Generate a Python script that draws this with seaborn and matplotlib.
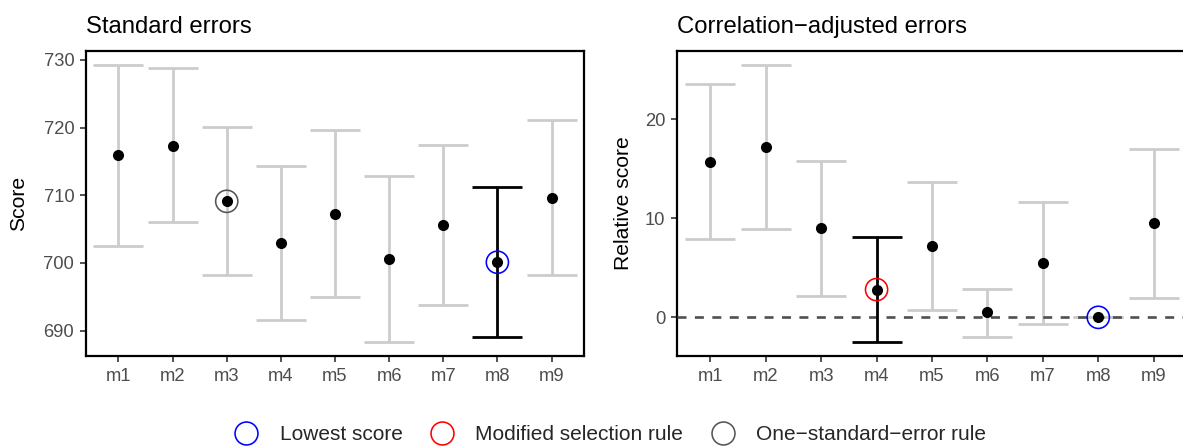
import numpy as np
import pandas as pd
import matplotlib
matplotlib.use("Agg")
import matplotlib.pyplot as plt
from matplotlib.lines import Line2D
import seaborn as sns

# ---------------- data ----------------
models = ["m1", "m2", "m3", "m4", "m5", "m6", "m7", "m8", "m9"]

score = [715.9, 717.3, 709.1, 703.0, 707.3, 700.6, 705.55, 700.1, 709.6]
score_lower = [702.5, 706.0, 698.2, 691.6, 695.0, 688.3, 693.8, 689.0, 698.2]
score_upper = [729.3, 728.8, 720.1, 714.3, 719.7, 712.9, 717.4, 711.2, 721.1]

rel_score = [15.7, 17.2, 9.0, 2.8, 7.2, 0.5, 5.45, 0.0, 9.5]
rel_lower = [7.9, 8.9, 2.2, -2.5, 0.7, -2.0, -0.7, 0.0, 2.0]
rel_upper = [23.5, 25.5, 15.8, 8.1, 13.7, 2.9, 11.6, 0.0, 17.0]

left_ticks = [690, 700, 710, 720, 730]
right_ticks = [0, 10, 20]

lowest_model = "m8"
modified_model = "m4"
onese_model = "m3"

legend_labels = ["Lowest score", "Modified selection rule", "One\u2212standard\u2212error rule"]
titles = ["Standard errors", "Correlation\u2212adjusted errors"]
ylabels = ["Score", "Relative score"]

# ---------------- style ----------------
sns.set_theme(style="white")
plt.rcParams["font.family"] = ["Liberation Sans", "DejaVu Sans"]

BAR_GREY = "#CCCCCC"
TICK_TXT = "#4D4D4D"
C_LOW = "#0000FF"
C_MOD = "#FF0000"
C_ONE = "#555555"

fig = plt.figure(figsize=(11.83, 4.46), dpi=100)
H = 446.0
W = 1183.0
ax_top = 50.7
ax_bot = 356.0
axL = fig.add_axes([86 / W, 1 - ax_bot / H, 498 / W, (ax_bot - ax_top) / H])
axR = fig.add_axes([677 / W, 1 - ax_bot / H, 510 / W, (ax_bot - ax_top) / H])

dfL = pd.DataFrame({"model": models, "val": score, "lo": score_lower, "hi": score_upper})
dfR = pd.DataFrame({"model": models, "val": rel_score, "lo": rel_lower, "hi": rel_upper})


def draw(ax, df, sel_model, rings, hline=False):
    # points via seaborn (sets categorical axis)
    sns.scatterplot(data=df, x="model", y="val", ax=ax, color="black", s=64,
                    linewidth=0, zorder=6, legend=False)
    x = np.arange(len(df))
    grey = df["model"] != sel_model
    yerr = np.vstack([df["val"] - df["lo"], df["hi"] - df["val"]])
    ax.errorbar(x[grey], df["val"][grey], yerr=yerr[:, grey.values], fmt="none",
                ecolor=BAR_GREY, elinewidth=2.0, capsize=17.8, capthick=2.0, zorder=2)
    sel = ~grey
    ax.errorbar(x[sel], df["val"][sel], yerr=yerr[:, sel.values], fmt="none",
                ecolor="black", elinewidth=2.0, capsize=17.8, capthick=2.0, zorder=4)
    if hline:
        ax.axhline(0, color="#505050", lw=1.9, ls=(0, (3.4, 3.2)), zorder=3)
    for m, c in rings:
        r = df[df["model"] == m]
        ax.scatter(x[r.index], r["val"], s=255, facecolors="none", edgecolors=c,
                   linewidths=1.15, zorder=7)
    lo = df["lo"].min()
    hi = df["hi"].max()
    pad = 0.05 * (hi - lo)
    ax.set_ylim(lo - pad, hi + pad)
    ax.set_xlim(-0.6, len(df) - 0.4)
    ax.set_xlabel("")
    for s in ax.spines.values():
        s.set_visible(True)
        s.set_color("black")
        s.set_linewidth(1.6)
    ax.tick_params(axis="both", which="major", length=4.3, width=1.2, color="#333333",
                   labelsize=13.2, labelcolor=TICK_TXT, pad=4.2, direction="out",
                   bottom=True, left=True)
    ax.grid(False)


draw(axL, dfL, lowest_model, [(lowest_model, C_LOW), (onese_model, C_ONE)])
draw(axR, dfR, modified_model, [(lowest_model, C_LOW), (modified_model, C_MOD)], hline=True)

axL.set_yticks(left_ticks)
axR.set_yticks(right_ticks)
axL.set_xticks(range(len(models)))
axL.set_xticklabels(models)
axR.set_xticks(range(len(models)))
axR.set_xticklabels(models)

for ax, t, yl, lx in [(axL, titles[0], ylabels[0], -0.116), (axR, titles[1], ylabels[1], -0.086)]:
    ax.text(0, 1.058, t, transform=ax.transAxes, ha="left", va="baseline",
            fontsize=17.2, color="black")
    ax.set_ylabel(yl, fontsize=15.2, color="black")
    ax.yaxis.set_label_coords(lx, 0.5)

handles = [Line2D([], [], ls="none", marker="o", markersize=16.5, mfc="none",
                  mec=c, mew=1.15) for c in (C_LOW, C_MOD, C_ONE)]
fig.legend(handles, legend_labels, loc="center", bbox_to_anchor=(0.5157, 0.0247),
           ncol=3, frameon=False, fontsize=15, handlelength=1.2, handletextpad=1.0,
           columnspacing=1.3, borderpad=0, borderaxespad=0)

fig.savefig("out.png", dpi=100)
